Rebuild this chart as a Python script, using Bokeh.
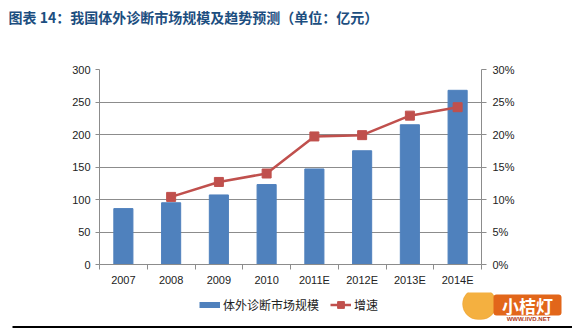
from bokeh.plotting import figure
from bokeh.layouts import column
from bokeh.models import (Range1d, LinearAxis, FixedTicker, NumeralTickFormatter, Label,
                          Legend, LegendItem, BoxAnnotation, ColumnDataSource)
from bokeh.embed import file_html
from bokeh.resources import INLINE
import numpy as np

years = ["2007", "2008", "2009", "2010", "2011E", "2012E", "2013E", "2014E"]
market = [86, 95, 107, 123, 147, 175, 215, 268]          # 亿元
growth_years = years[1:]
growth = [10.4, 12.7, 14.0, 19.7, 19.9, 22.9, 24.2]      # %
left_ticks = [0, 50, 100, 150, 200, 250, 300]
right_ticks = [0, 0.05, 0.10, 0.15, 0.20, 0.25, 0.30]

title_text = "图表 14：我国体外诊断市场规模及趋势预测（单位：亿元）"
bar_label = "体外诊断市场规模"
line_label = "增速"

BLUE = "#4F81BD"
RED = "#C0504D"
GRID = "#8C8C8C"
NUM_FONT = "Liberation Sans"
CJK_FONT = "Noto Sans CJK SC"
W = 572


def blank(height):
    f = figure(width=W, height=height, output_backend="svg", toolbar_location=None,
               x_range=Range1d(0, W), y_range=Range1d(height, 0),
               x_axis_location=None, y_axis_location=None,
               min_border=0, min_border_left=0, min_border_right=0,
               min_border_top=0, min_border_bottom=0, frame_align=False)
    f.grid.grid_line_color = None
    f.outline_line_color = None
    return f


# ---------- title strip ----------
top = blank(35)
top.add_layout(Label(x=8, y=16, text=title_text, text_font=CJK_FONT,
                     text_font_size="14px", text_font_style="bold",
                     text_color="#1C4E80", text_baseline="middle"))

# ---------- main chart ----------
xpos = np.arange(len(years)) + 0.5
gx = xpos[1:]
bar_src = ColumnDataSource(dict(x=xpos, top=market))
line_src = ColumnDataSource(dict(x=gx, y=np.array(growth) / 100.0))

p = figure(width=W, height=257, output_backend="svg", toolbar_location=None,
           x_range=Range1d(0, len(years)), y_range=Range1d(0, 300),
           min_border_left=99, min_border_right=91, min_border_top=34, min_border_bottom=28,
           frame_align=False)
p.extra_y_ranges = {"pct": Range1d(0, 0.30)}
p.outline_line_color = None

bars = p.vbar(x="x", top="top", width=0.4, source=bar_src, color=BLUE)
ln = p.line(x="x", y="y", source=line_src, y_range_name="pct", line_color=RED, line_width=2.5)
mk = p.scatter(x="x", y="y", source=line_src, y_range_name="pct", marker="square",
               size=9, fill_color=RED, line_color=RED)

xax = p.xaxis[0]
xax.ticker = FixedTicker(ticks=list(xpos), minor_ticks=list(range(len(years) + 1)))
xax.major_label_overrides = {float(x): y for x, y in zip(xpos, years)}
xax.major_tick_out = 0
xax.major_tick_in = 0
xax.minor_tick_out = 5
xax.minor_tick_in = 0
xax.minor_tick_line_color = GRID
xax.axis_line_color = GRID
xax.major_label_standoff = 4
xax.major_label_text_font = NUM_FONT
xax.major_label_text_font_size = "11px"
xax.major_label_text_color = "#222222"

yax = p.yaxis[0]
yax.ticker = FixedTicker(ticks=left_ticks)
yax.axis_line_color = GRID
yax.major_tick_line_color = GRID
yax.major_tick_out = 4
yax.major_tick_in = 0
yax.minor_tick_line_color = None
yax.major_label_standoff = 5
yax.major_label_text_font = NUM_FONT
yax.major_label_text_font_size = "11px"
yax.major_label_text_color = "#222222"

rax = LinearAxis(y_range_name="pct", ticker=FixedTicker(ticks=right_ticks),
                 formatter=NumeralTickFormatter(format="0%"))
rax.axis_line_color = GRID
rax.major_tick_line_color = GRID
rax.major_tick_out = 5
rax.major_tick_in = 0
rax.minor_tick_line_color = None
rax.major_label_standoff = 6
rax.major_label_text_font = NUM_FONT
rax.major_label_text_font_size = "11px"
rax.major_label_text_color = "#222222"
p.add_layout(rax, "right")

p.xgrid.grid_line_color = None
p.ygrid.ticker = FixedTicker(ticks=left_ticks)
p.ygrid.grid_line_color = GRID
p.ygrid.grid_line_width = 1

# ---------- bottom strip: legend, logo, rule ----------
bot = blank(36)
proxy_src = ColumnDataSource(dict(x=[np.nan], y=[np.nan]))
pb = bot.line(x="x", y="y", source=proxy_src, line_color=BLUE, line_width=6)
pl = bot.line(x="x", y="y", source=proxy_src, line_color=RED, line_width=2.5)
pm = bot.scatter(x="x", y="y", source=proxy_src, marker="square", size=9,
                 fill_color=RED, line_color=RED)
legend = Legend(items=[LegendItem(label=bar_label, renderers=[pb]),
                       LegendItem(label=line_label, renderers=[pl, pm])],
                orientation="horizontal", location=(199, 15),
                glyph_width=21, glyph_height=17, label_standoff=3, spacing=11,
                padding=0, margin=0, border_line_color=None, background_fill_alpha=0,
                label_text_font=CJK_FONT, label_text_font_size="12px",
                label_text_color="#222222")
bot.add_layout(legend, "center")

# logo (decorative)
bot.add_layout(BoxAnnotation(left=462, right=496, top=-4, bottom=27, border_radius=16,
                             fill_color="#F4B040", fill_alpha=1, line_color="#E89A2A",
                             line_width=1))
bot.add_layout(BoxAnnotation(left=493, right=561, top=2, bottom=23, border_radius=3,
                             fill_color="#E2661A", fill_alpha=1, line_color=None))
bot.add_layout(Label(x=527, y=13, text="小桔灯", text_font=CJK_FONT, text_font_size="17px",
                     text_font_style="bold", text_color="white", text_align="center",
                     text_baseline="middle"))
bot.add_layout(Label(x=528, y=26, text="WWW.IIVD.NET", text_font=NUM_FONT,
                     text_font_size="6px", text_font_style="bold", text_color="#B03A1A",
                     text_align="center", text_baseline="middle"))
bot.add_layout(BoxAnnotation(left=12, right=W, top=33.5, bottom=35.5,
                             fill_color="black", fill_alpha=1, line_color=None))

layout = column(top, p, bot, spacing=0)

with open("out.html", "w") as f:
    f.write(file_html(layout, INLINE))
